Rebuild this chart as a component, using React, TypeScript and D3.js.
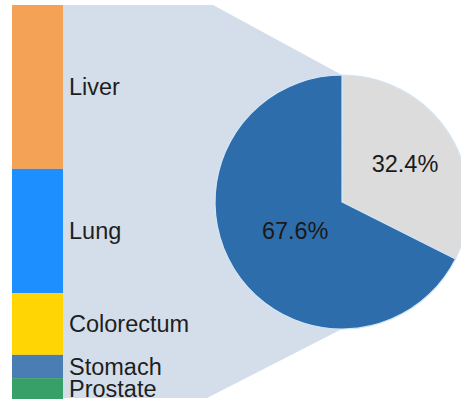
import React from "react";
import * as d3 from "d3";

const categories = ["Liver", "Lung", "Colorectum", "Stomach", "Prostate"];
const barValues = [41.6, 31.5, 15.7, 5.9, 5.3];
const barColors = ["#F4A256", "#1E8FFF", "#FFD503", "#4A7DB3", "#36A068"];

const pieLabels = ["32.4%", "67.6%"];
const pieValues = [32.4, 67.6];
const pieColors = ["#DCDCDC", "#2E6DAC"];
const pieLabelRadius = [74, 55];

const W = 461;
const H = 401;

export default function App() {
  const barX = 12;
  const barW = 51;
  const total = d3.sum(barValues);
  const y = d3.scaleLinear().domain([0, total]).range([5, 399]);
  const cum = d3.cumsum(barValues);
  const segs = barValues.map((v, i) => {
    const start = i === 0 ? 0 : cum[i - 1];
    return { y0: y(start), y1: y(start + v), label: categories[i], color: barColors[i] };
  });

  const cx = 342;
  const cy = 202;
  const R = 127;
  const pie = d3.pie<number>().sort(null).value((d) => d);
  const arcs = pie(pieValues);
  const arcGen = d3.arc<d3.PieArcDatum<number>>().innerRadius(0).outerRadius(R);

  const bgPath = [
    [barX + barW, 5],
    [213, 5],
    [cx, 75],
    [cx, cy + R],
    [207, 398],
    [barX + barW, 398],
  ];

  return (
    <svg
      width={W}
      height={H}
      style={{ position: "absolute", left: 0, top: 0, background: "#fff" }}
      fontFamily="'Liberation Sans', Arial, sans-serif"
    >
      <polygon points={bgPath.map((p) => p.join(",")).join(" ")} fill="#D4DEEB" />
      {segs.map((s, i) => (
        <rect key={i} x={barX} y={s.y0} width={barW} height={s.y1 - s.y0} fill={s.color} />
      ))}
      {segs.map((s, i) => (
        <text
          key={i}
          x={69}
          y={(s.y0 + s.y1) / 2}
          dy="0.36em"
          fontSize={23.5}
          fill="#1e1e1e"
        >
          {s.label}
        </text>
      ))}
      <g transform={`translate(${cx},${cy})`}>
        {arcs.map((a, i) => (
          <path key={i} d={arcGen(a) || ""} fill={pieColors[i]} stroke="#D3E6F6" strokeWidth={1.2} />
        ))}
        {arcs.map((a, i) => {
          const lab = d3
            .arc<d3.PieArcDatum<number>>()
            .innerRadius(pieLabelRadius[i])
            .outerRadius(pieLabelRadius[i]);
          const [lx, ly] = lab.centroid(a);
          return (
            <text
              key={i}
              x={lx}
              y={ly}
              dy="0.36em"
              textAnchor="middle"
              fontSize={23.5}
              fill="#1a1a1a"
            >
              {pieLabels[i]}
            </text>
          );
        })}
      </g>
    </svg>
  );
}
